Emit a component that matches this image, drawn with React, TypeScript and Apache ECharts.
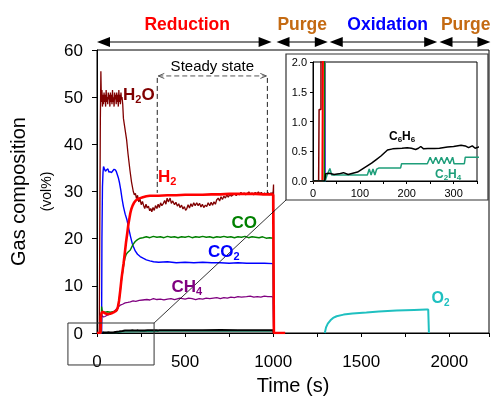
import React, { useEffect, useRef } from "react";
import * as echarts from "echarts";

// ---------- data (time s, vol%) ----------
const h2oData: number[][] = [
  [0, 0], [12, 0], [13, 1.2], [17, 1.2], [19, 45], [22, 55.5], [25, 49], [28, 51.5], [31, 48], [34, 50.5], [37, 48.5], [40, 51],
  [43, 49], [46, 50.5], [49, 48], [52, 51.5], [55, 49], [58, 50], [61, 48.5], [64, 51], [67, 49.5], [70, 50.5], [73, 48], [76, 51],
  [79, 49], [82, 50.5], [85, 48.5], [88, 51.5], [91, 49], [94, 50], [97, 48], [100, 51], [103, 49.5], [106, 50.5], [109, 48.5],
  [112, 51], [115, 49], [118, 50.5], [121, 48], [124, 51.5], [127, 49], [130, 50.5], [133, 48.5], [136, 51], [139, 49.5], [142, 50],
  [146, 48.5], [150, 45.5], [158, 43.5], [168, 41], [176, 38], [187, 34.5], [196, 32], [206, 30], [212, 29.3], [218, 29.6],
  [224, 28.5], [230, 29.2], [237, 27.8], [244, 28.4], [251, 27.2], [258, 27.9], [264, 27.1], [271, 26.4], [278, 27.3], [285, 26.5],
  [292, 26.9], [299, 25.9], [305, 26.4], [311, 25.7], [318, 26.6], [325, 26], [332, 27], [340, 26.4], [347, 27.3], [354, 26.6],
  [361, 27.6], [368, 27], [377, 27.5], [384, 28.1], [391, 27.3], [398, 28.6], [405, 27.8], [415, 28.6], [422, 27.5], [430, 28],
  [440, 27.2], [448, 27.7], [456, 26.9], [464, 27.4], [471, 26.6], [480, 27.1], [488, 26.3], [496, 26.8], [503, 26], [509, 26.3],
  [517, 27.2], [525, 26.5], [533, 27.4], [541, 26.8], [549, 27.6], [557, 27], [566, 27.6], [574, 27], [582, 27.5], [590, 26.7],
  [598, 27.3], [606, 26.6], [615, 27.1], [623, 26.8], [631, 27.6], [640, 27], [648, 27.7], [656, 27.1], [664, 27.8], [672, 27.3],
  [679, 28.2], [688, 28.6], [696, 28], [704, 28.9], [712, 28.3], [720, 29], [729, 28.6], [737, 29.3], [745, 28.8], [754, 29.4],
  [762, 29], [773, 29.3], [782, 29.6], [790, 29.1], [799, 29.6], [808, 29.3], [817, 29.8], [826, 29.4], [835, 29.7], [844, 29.3],
  [853, 29.6], [862, 29.9], [871, 29.4], [880, 29.7], [889, 29.3], [898, 29.8], [907, 29.5], [916, 29.9], [924, 29.5], [933, 29.8],
  [942, 29.3], [951, 29.7], [960, 29.4], [969, 29.8], [978, 29.3], [987, 29.7], [996, 29.5], [1000, 30], [1002, 31.5], [1004, 0],
];

const h2Data: number[][] = [
  [0, 0], [20, 0], [22, 3.5], [26, 4.3], [32, 4.5], [45, 4.2], [60, 4.0], [75, 4.1], [90, 4.3], [100, 4.5], [108, 4.7], [113, 4.9],
  [118, 5.4], [125, 6.8], [132, 9], [140, 11.8], [151, 14.8], [158, 17], [165, 19.3], [172, 21.2], [178, 23], [184, 24.3],
  [189, 25.4], [195, 26.3], [202, 27], [210, 27.6], [220, 28.1], [232, 28.4], [245, 28.6], [260, 28.8], [280, 29], [300, 29.1],
  [350, 29.1], [400, 29.2], [450, 29.2], [500, 29.3], [550, 29.3], [600, 29.3], [650, 29.4], [700, 29.4], [750, 29.5],
  [800, 29.5], [850, 29.5], [900, 29.5], [950, 29.4], [990, 29.4], [1000, 29.3], [1004, 0], [1068, 0],
];

const coData: number[][] = [
  [0, 0], [24, 0], [26, 5.6], [29, 4.8], [33, 4.5], [45, 4.4], [60, 4.5], [75, 4.4], [90, 4.5], [105, 4.6], [113, 4.8],
  [118, 5.3], [125, 6.7], [132, 8.9], [140, 11.6], [151, 14.3], [158, 15.8], [165, 16.6], [172, 17.0], [180, 17.3], [189, 17.6],
  [197, 18.2], [205, 18.8], [217, 19.4], [230, 19.8], [245, 20.1], [260, 20.2], [280, 20.4], [300, 20.2], [320, 20.5],
  [340, 20.3], [360, 20.4], [380, 20.2], [400, 20.5], [420, 20.3], [440, 20.4], [460, 20.2], [480, 20.4], [500, 20.3],
  [520, 20.5], [540, 20.2], [560, 20.4], [580, 20.3], [600, 20.5], [620, 20.3], [640, 20.4], [660, 20.2], [680, 20.4],
  [700, 20.3], [720, 20.5], [740, 20.3], [760, 20.4], [780, 20.2], [800, 20.4], [820, 20.3], [840, 20.5], [860, 20.2],
  [880, 20.4], [900, 20.3], [920, 20.2], [940, 20.4], [960, 20.1], [980, 20.2], [1000, 20.1], [1003, 0],
];

const co2Data: number[][] = [
  [0, 0], [26, 0], [28, 20], [31, 31], [34, 34], [37, 35.3], [42, 34.8], [48, 34.3], [55, 34.6], [62, 34.8], [68, 34.1],
  [75, 34.2], [82, 34.0], [90, 34.4], [97, 34.7], [104, 34.6], [110, 34.2], [116, 33.5], [122, 32.8], [128, 31.8], [135, 30.3],
  [142, 28.5], [150, 26.8], [160, 25.2], [170, 24], [180, 22.2], [190, 20.5], [200, 19], [207, 18.3], [217, 17.4], [230, 16.7],
  [245, 16.2], [264, 15.8], [280, 15.5], [300, 15.3], [321, 15.1], [350, 15.0], [400, 15.1], [450, 14.9], [500, 15.0],
  [550, 14.9], [600, 15.0], [650, 14.9], [700, 14.9], [750, 14.8], [800, 14.9], [850, 14.8], [900, 14.8], [950, 14.8],
  [1000, 14.7], [1003, 0],
];

const ch4Data: number[][] = [
  [0, 0], [25, 0], [27, 3.8], [30, 3.6], [37, 3.4], [45, 3.5], [55, 3.7], [65, 3.9], [75, 4.1], [85, 4.3], [94, 4.5], [105, 4.9],
  [115, 5.3], [125, 5.7], [132, 5.9], [145, 6.1], [160, 6.4], [175, 6.5], [189, 6.6], [205, 6.8], [220, 6.7], [240, 6.9],
  [260, 7.0], [283, 7.1], [300, 7.0], [320, 7.3], [340, 7.1], [360, 7.2], [380, 7.0], [400, 7.2], [420, 7.3], [440, 7.1],
  [471, 7.4], [500, 7.2], [520, 7.4], [540, 7.3], [560, 7.1], [580, 7.3], [600, 7.2], [620, 7.4], [640, 7.3], [660, 7.4],
  [680, 7.5], [700, 7.3], [720, 7.5], [740, 7.4], [760, 7.6], [780, 7.5], [800, 7.7], [820, 7.6], [849, 7.7], [870, 7.8],
  [890, 7.6], [910, 7.7], [930, 7.6], [950, 7.8], [970, 7.7], [990, 7.7], [1000, 7.6], [1003, 0],
];

const c6h6Data: number[][] = [
  [0, 0], [25, 0], [27, 0.12], [35, 0.13], [45, 0.11], [55, 0.12], [65, 0.14], [75, 0.11], [85, 0.13], [95, 0.15], [105, 0.2],
  [115, 0.25], [125, 0.3], [135, 0.36], [145, 0.42], [152, 0.47], [159, 0.52], [170, 0.54], [180, 0.545], [190, 0.55],
  [201, 0.56], [210, 0.55], [219, 0.53], [225, 0.55], [230, 0.58], [236, 0.54], [245, 0.545], [259, 0.545], [270, 0.55],
  [287, 0.57], [300, 0.58], [316, 0.6], [325, 0.59], [332, 0.56], [340, 0.59], [346, 0.55], [353, 0.57], [400, 0.58],
  [500, 0.6], [600, 0.6], [700, 0.61], [800, 0.6], [900, 0.6], [1000, 0.6], [1003, 0],
];

const c2h4Data: number[][] = [
  [0, 0], [26, 0], [30, 0.1], [36, 0.21], [40, 0.1], [116, 0.1], [120, 0.2], [124, 0.1], [128, 0.2], [132, 0.1], [136, 0.2],
  [141, 0.22], [187, 0.22], [189, 0.29], [244, 0.29], [250, 0.4], [256, 0.29], [262, 0.4], [268, 0.29], [274, 0.4], [280, 0.29],
  [286, 0.4], [292, 0.29], [298, 0.4], [301, 0.29], [323, 0.29], [325, 0.4], [353, 0.4], [600, 0.4], [1000, 0.4], [1003, 0],
];

const o2Data: number[][] = [
  [1293, 0], [1300, 1.2], [1310, 2.0], [1325, 2.7], [1340, 3.2], [1360, 3.55], [1400, 3.9], [1450, 4.15], [1529, 4.35],
  [1600, 4.55], [1700, 4.75], [1800, 4.9], [1868, 5.0], [1880, 5.0], [1884, 0],
];

// axes
const mainXLabels = [0, 500, 1000, 1500, 2000];
const insetXLabels = [0, 100, 200, 300];

// phases (time s)
const phaseNames = ["Reduction", "Purge", "Oxidation", "Purge"];
const phaseStart = [0, 1019, 1321, 1944];
const phaseEnd = [991, 1310, 1931, 2233];
const phaseLabelT = [512, 1165, 1650, 2093];
const phaseLevel = 61.7;

// steady-state window
const steadyT = [342, 967];
const steadyV = [29.7, 54.5];

// zoom box (data coords of main chart)
const zoomBoxT = [-165, 324];
const zoomBoxV = [2.12, -6.78];

const FONT = '"Liberation Sans", Arial, Helvetica, sans-serif';
const PURGE = "#C46A12";
const phaseColors = ["#FF0000", PURGE, "#0000FF", PURGE];

export default function App() {
  const ref = useRef<HTMLDivElement>(null);
  useEffect(() => {
    document.body.style.margin = "0";
    const chart = echarts.init(ref.current!, null, { renderer: "svg" });

    const line = (name: string, data: number[][], color: string, width: number, g: number, z: number) => ({
      type: "line",
      name,
      data,
      xAxisIndex: g,
      yAxisIndex: g,
      showSymbol: false,
      symbol: "none",
      lineStyle: { color, width },
      itemStyle: { color },
      z,
      silent: true,
      clip: true,
    });

    const axisCommon = {
      axisLine: { show: true, lineStyle: { color: "#000", width: 1 } },
      splitLine: { show: false },
    };

    chart.setOption({
      animation: false,
      textStyle: { fontFamily: FONT },
      grid: [
        { left: 97, top: 50, width: 392, height: 283, show: true, borderColor: "#000", borderWidth: 1, containLabel: false, outerBoundsMode: "none" },
        { left: 313, top: 62, width: 164, height: 119, show: true, borderColor: "#000", borderWidth: 1, containLabel: false, outerBoundsMode: "none" },
      ],
      xAxis: [
        {
          ...axisCommon,
          gridIndex: 0,
          type: "value",
          min: 0,
          max: 2225,
          interval: 250,
          axisTick: { show: true, inside: false, length: 4, lineStyle: { color: "#000" } },
          axisLabel: {
            formatter: (v: number) => (mainXLabels.includes(v) ? String(v) : ""),
            fontSize: 17,
            color: "#000",
            margin: 20,
          },
          name: "Time (s)",
          nameLocation: "middle",
          nameGap: 42,
          nameTextStyle: { fontSize: 20, color: "#000", lineHeight: 20 },
        },
        {
          ...axisCommon,
          gridIndex: 1,
          type: "value",
          min: 0,
          max: 350,
          interval: 50,
          axisTick: { show: true, inside: false, length: 3, lineStyle: { color: "#000" } },
          axisLabel: {
            formatter: (v: number) => (insetXLabels.includes(v) ? String(v) : ""),
            fontSize: 11,
            color: "#000",
            margin: 6,
          },
        },
      ],
      yAxis: [
        {
          ...axisCommon,
          gridIndex: 0,
          type: "value",
          min: 0,
          max: 60,
          interval: 10,
          axisTick: { show: true, inside: false, length: 5, lineStyle: { color: "#000" } },
          axisLabel: { fontSize: 17, color: "#000", margin: 14 },
          name: "{a|Gas composition}\n{b|(vol%)}",
          nameLocation: "middle",
          nameRotate: 90,
          nameGap: 37,
          nameTextStyle: {
            color: "#000",
            rich: {
              a: { fontSize: 20, lineHeight: 28, color: "#000", fontFamily: FONT },
              b: { fontSize: 14, lineHeight: 28, color: "#000", fontFamily: FONT },
            },
          },
        },
        {
          ...axisCommon,
          gridIndex: 1,
          type: "value",
          min: 0,
          max: 2,
          interval: 0.5,
          axisTick: { show: true, inside: false, length: 3, lineStyle: { color: "#000" } },
          axisLabel: { formatter: (v: number) => v.toFixed(1), fontSize: 11, color: "#000", margin: 6 },
        },
      ],
      series: [
        line("C2H4", c2h4Data, "#1E9E7A", 1.3, 0, 2),
        line("C6H6", c6h6Data, "#000000", 2, 0, 3),
        line("CH4", ch4Data, "#800080", 1.3, 0, 4),
        line("CO2", co2Data, "#0000FF", 1.4, 0, 5),
        line("CO", coData, "#008000", 1.4, 0, 6),
        line("H2O", h2oData, "#800000", 1.3, 0, 7),
        line("H2", h2Data, "#FF0000", 2.6, 0, 8),
        line("O2", o2Data, "#1FC0C0", 2, 0, 9),
        line("H2O", h2oData, "#800000", 1.5, 1, 10),
        line("CO2", co2Data, "#0000FF", 1.5, 1, 10),
        line("CH4", ch4Data, "#A060C0", 1.5, 1, 11),
        line("CO", coData, "#008000", 1.5, 1, 12),
        line("H2", h2Data, "#FF0000", 2, 1, 13),
        line("C2H4", c2h4Data, "#1E9E7A", 1.5, 1, 14),
        line("C6H6", c6h6Data, "#000000", 1.5, 1, 15),
      ],
    });

    const P = (x: number, y: number, g = 0) => chart.convertToPixel({ gridIndex: g } as any, [x, y]) as number[];

    const els: any[] = [];
    const txt = (x: number, y: number, parts: [string, boolean][], color: string, size: number, sub: number, align = "left") => {
      const text = parts.map(([t, s]) => `{${s ? "s" : "m"}|${t}}`).join("");
      els.push({
        type: "text",
        x,
        y,
        z: 100,
        silent: true,
        style: {
          text,
          fill: color,
          align,
          textAlign: align,
          verticalAlign: "middle",
          textVerticalAlign: "middle",
          fontFamily: FONT,
          fontSize: size,
          fontWeight: "bold",
          rich: {
            m: { fontSize: size, fontWeight: "bold", fontFamily: FONT, fill: color, lineHeight: size + 3 },
            s: { fontSize: sub, fontWeight: "bold", fontFamily: FONT, fill: color, lineHeight: sub + 1, verticalAlign: "bottom" },
          },
        },
      });
    };

    // phase arrows
    phaseNames.forEach((n, i) => {
      const [x1, y] = P(phaseStart[i], phaseLevel);
      const [x2] = P(phaseEnd[i], phaseLevel);
      const [lx] = P(phaseLabelT[i], phaseLevel);
      els.push({ type: "line", z: 100, silent: true, shape: { x1: x1 + 8, y1: y, x2: x2 - 8, y2: y }, style: { stroke: "#000", lineWidth: 1.2 } });
      els.push({ type: "polygon", z: 100, silent: true, shape: { points: [[x1, y], [x1 + 13, y - 5], [x1 + 13, y + 5]] }, style: { fill: "#000" } });
      els.push({ type: "polygon", z: 100, silent: true, shape: { points: [[x2, y], [x2 - 13, y - 5], [x2 - 13, y + 5]] }, style: { fill: "#000" } });
      txt(lx, y - 18, [[n, false]], phaseColors[i], 17.5, 12, "center");
    });

    // steady state
    const [sx1, sy1] = P(steadyT[0], steadyV[1]);
    const [sx2, sy2] = P(steadyT[1], steadyV[0]);
    const dash = { stroke: "#222", lineWidth: 1, lineDash: [5, 3] };
    els.push({ type: "line", z: 100, silent: true, shape: { x1: sx1, y1: sy1 + 2, x2: sx1, y2: sy2 }, style: dash });
    els.push({ type: "line", z: 100, silent: true, shape: { x1: sx2, y1: sy1 + 2, x2: sx2, y2: sy2 }, style: dash });
    els.push({ type: "line", z: 100, silent: true, shape: { x1: sx1 + 1, y1: sy1, x2: sx2 - 1, y2: sy1 }, style: { ...dash, stroke: "#555" } });
    els.push({ type: "polyline", z: 100, silent: true, shape: { points: [[sx1 + 7, sy1 - 2.5], [sx1 + 1, sy1], [sx1 + 7, sy1 + 2.5]] }, style: { stroke: "#555", lineWidth: 1, fill: "none" } });
    els.push({ type: "polyline", z: 100, silent: true, shape: { points: [[sx2 - 7, sy1 - 2.5], [sx2 - 1, sy1], [sx2 - 7, sy1 + 2.5]] }, style: { stroke: "#555", lineWidth: 1, fill: "none" } });
    els.push({
      type: "text", z: 100, silent: true, x: (sx1 + sx2) / 2, y: sy1 - 10,
      style: { text: "Steady state", fill: "#000", fontSize: 15, fontFamily: FONT, align: "center", textAlign: "center", verticalAlign: "middle", textVerticalAlign: "middle" },
    });

    // zoom box, connector and inset frame
    const [bx1, by1] = P(zoomBoxT[0], zoomBoxV[0]);
    const [bx2, by2] = P(zoomBoxT[1], zoomBoxV[1]);
    els.push({ type: "rect", z: 100, silent: true, shape: { x: bx1, y: by1, width: bx2 - bx1, height: by2 - by1 }, style: { fill: "none", stroke: "#333", lineWidth: 1 } });
    const [ix0, iy0] = P(0, 0, 1);
    const [ix1, iy1] = P(350, 2, 1);
    const fx1 = ix0 - 27, fy1 = iy1 - 8, fx2 = ix1 + 11, fy2 = iy0 + 19;
    els.push({ type: "rect", z: 1, silent: true, shape: { x: fx1, y: fy1, width: fx2 - fx1, height: fy2 - fy1 }, style: { fill: "none", stroke: "#333", lineWidth: 1.2 } });
    els.push({ type: "line", z: 100, silent: true, shape: { x1: bx2, y1: by1, x2: fx1, y2: fy2 }, style: { stroke: "#000", lineWidth: 0.8 } });

    // series labels
    txt(123, 94, [["H", false], ["2", true], ["O", false]], "#800000", 17, 11);
    txt(158, 176, [["H", false], ["2", true]], "#FF0000", 17, 11);
    txt(231.5, 222.5, [["CO", false]], "#008000", 17, 11);
    txt(208, 251, [["CO", false], ["2", true]], "#0000FF", 17, 11);
    txt(171.5, 286.5, [["CH", false], ["4", true]], "#800080", 17, 11);
    txt(431.5, 297.5, [["O", false], ["2", true]], "#1FC0C0", 16, 10);
    txt(389, 136, [["C", false], ["6", true], ["H", false], ["6", true]], "#000000", 12, 8);
    txt(435, 174, [["C", false], ["2", true], ["H", false], ["4", true]], "#1E9E7A", 12, 8);

    chart.setOption({ graphic: els });

    return () => chart.dispose();
  }, []);
  return <div ref={ref} style={{ position: "fixed", left: 0, top: 0, width: 491, height: 396 }} />;
}
